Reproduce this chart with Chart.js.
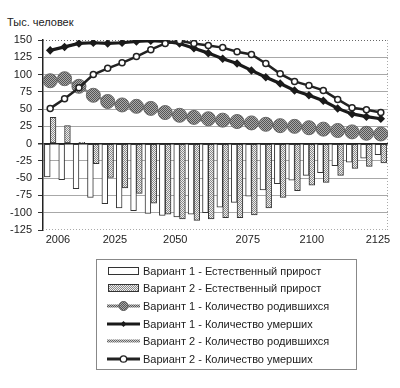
<!DOCTYPE html>
<html>
<head>
<meta charset="utf-8">
<script src="https://cdn.jsdelivr.net/npm/chart.js@4.4.1/dist/chart.umd.min.js"></script>
<style>
  body { margin: 0; background: #fff; }
  #wrap { position: relative; width: 400px; height: 388px; font-family: "Liberation Sans", Arial, sans-serif; color: #222; }
  #unit { position: absolute; left: 7px; top: 16px; font-size: 11px; }
  #plot { position: absolute; left: 0; top: 0; }
  #legend { position: absolute; left: 96px; top: 259px; width: 261px; height: 111px; border: 1px solid #888; box-sizing: border-box; padding-top: 2px; }
  .row { display: flex; align-items: center; height: 17.6px; font-size: 11px; white-space: nowrap; }
  .row canvas { margin-left: 10px; margin-right: 3px; }
</style>
</head>
<body>
<div id="wrap">
  <div id="unit">Тыс. человек</div>
  <canvas id="plot" width="400" height="250"></canvas>
  <div id="legend"></div>
</div>
<script>
"use strict";

// category index (24 periods) and the years shown on the axis
const categories = [0,1,2,3,4,5,6,7,8,9,10,11,12,13,14,15,16,17,18,19,20,21,22,23];
const tickLabels = ['2006', '2025', '2050', '2075', '2100', '2125'];
const tickPos    = [0.54, 4.5, 8.7, 13.75, 18.2, 22.8];

const v1Natural = [-48,-52,-65,-78,-87,-93,-97,-101,-104,-106,-102,-100,-92,-85,-76,-67,-58,-53,-46,-42,-32,-27,-21,-16];
const v2Natural = [38,26,2,-29,-49,-64,-72,-86,-102,-109,-111,-109,-107,-107,-103,-93,-78,-68,-60,-56,-46,-36,-33,-28];
const v1Births  = [91,94,83,70,61,56,54,51,45,41,38,36,34,32,30,28,26,25,23,21,19,17,15,14];
const v1Deaths  = [135,140,145,146,145,146,148,149,148,145,138,131,123,116,106,96,87,77,70,62,51,43,39,36];
const v2Births  = [89,91,83,71,60,53,54,50,43,40,34,33,32,30,29,27,25,23,22,20,18,16,15,14];
const v2Deaths  = [51,65,81,100,109,117,126,136,145,149,145,142,139,133,129,116,101,90,84,77,64,52,49,45];

const seriesNames = [
  'Вариант 1 - Естественный прирост',
  'Вариант 2 - Естественный прирост',
  'Вариант 1 - Количество родившихся',
  'Вариант 1 - Количество умерших',
  'Вариант 2 - Количество родившихся',
  'Вариант 2 - Количество умерших'
];

function dotPattern(ctx, fg, bg) {
  const t = document.createElement('canvas');
  t.width = 2; t.height = 2;
  const g = t.getContext('2d');
  g.fillStyle = bg; g.fillRect(0, 0, 2, 2);
  g.fillStyle = fg; g.fillRect(0, 0, 1, 1); g.fillRect(1, 1, 1, 1);
  return ctx.createPattern(t, 'repeat');
}

const pts = arr => arr.map((v, i) => ({ x: categories[i], y: v }));

const canvas = document.getElementById('plot');
const pctx = canvas.getContext('2d');
const hatch = dotPattern(pctx, '#8a8a8a', '#eeeeee');
const ball  = dotPattern(pctx, '#555555', '#aaaaaa');

const framePlugin = {
  id: 'frame',
  beforeDatasetsDraw(chart) {
    const { ctx, chartArea: { left, right, top, bottom } } = chart;
    ctx.save();
    ctx.setLineDash([1, 2]);
    ctx.lineWidth = 1;
    ctx.strokeStyle = '#666';
    ctx.beginPath(); ctx.moveTo(left, top + 0.5); ctx.lineTo(right, top + 0.5); ctx.stroke();
    ctx.strokeStyle = '#aaa';
    ctx.beginPath();
    ctx.moveTo(right - 0.5, top); ctx.lineTo(right - 0.5, bottom);
    ctx.moveTo(left, bottom - 0.5); ctx.lineTo(right, bottom - 0.5);
    ctx.stroke();
    ctx.restore();
  }
};

const font = { family: '"Liberation Sans", Arial, sans-serif', size: 11 };

new Chart(canvas, {
  type: 'bar',
  data: {
    datasets: [
      { type: 'bar', data: pts(v1Natural), backgroundColor: '#ffffff', borderColor: '#333', borderWidth: 1, borderSkipped: false, barThickness: 5.8, order: 10 },
      { type: 'bar', data: pts(v2Natural), backgroundColor: hatch, borderColor: '#333', borderWidth: 1, borderSkipped: false, barThickness: 5.8, order: 10 },
      { type: 'line', data: pts(v2Births), borderColor: '#999', borderWidth: 2, pointRadius: 0, order: 5 },
      { type: 'line', data: pts(v1Births), borderColor: '#888', borderWidth: 2, pointRadius: 7, pointBackgroundColor: ball, pointBorderColor: '#666', pointBorderWidth: 1, order: 4 },
      { type: 'line', data: pts(v1Deaths), borderColor: '#1a1a1a', borderWidth: 3.2, pointStyle: 'rectRot', pointRadius: 2, pointBackgroundColor: '#1a1a1a', pointBorderColor: '#1a1a1a', order: 2 },
      { type: 'line', data: pts(v2Deaths), borderColor: '#222', borderWidth: 2.5, pointRadius: 3, pointBackgroundColor: '#fff', pointBorderColor: '#222', pointBorderWidth: 1.5, order: 1 }
    ]
  },
  options: {
    responsive: false,
    animation: false,
    layout: { padding: { top: 40, right: 12, left: 0, bottom: 0 } },
    plugins: { legend: { display: false }, tooltip: { enabled: false } },
    scales: {
      x: {
        type: 'linear', min: -0.5, max: 23.5, offset: false, bounds: 'data',
        afterBuildTicks: a => { a.ticks = tickPos.map(v => ({ value: v })); },
        ticks: { callback: (v, i) => tickLabels[i], autoSkip: false, maxRotation: 0, padding: 3, color: '#222', font },
        grid: { display: false, drawTicks: false, offset: false },
        border: { display: false },
        afterFit: a => { a.height = 20; }
      },
      y: {
        min: -125, max: 150,
        ticks: { stepSize: 25, padding: 6, color: '#222', font },
        grid: {
          color: c => {
            const v = c.tick ? c.tick.value : null;
            if (v === 0) return '#222';
            if (v === 150 || v === -125) return 'rgba(0,0,0,0)';
            return '#a8a8a8';
          },
          lineWidth: c => (c.tick && c.tick.value === 0 ? 1.5 : 1),
          tickLength: 5, tickColor: '#333'
        },
        border: { display: true, color: '#222', width: 1.5 },
        afterFit: a => { a.width = 43; }
      }
    }
  },
  plugins: [framePlugin]
});

// legend with drawn swatches
function swatch(kind) {
  const c = document.createElement('canvas');
  c.width = 33; c.height = 12;
  const g = c.getContext('2d');
  const line = (col, w) => { g.strokeStyle = col; g.lineWidth = w; g.beginPath(); g.moveTo(0, 6); g.lineTo(33, 6); g.stroke(); };
  if (kind === 0 || kind === 1) {
    g.fillStyle = kind === 0 ? '#fff' : dotPattern(g, '#8a8a8a', '#eeeeee');
    g.fillRect(1, 2.5, 31, 7);
    g.strokeStyle = '#333'; g.lineWidth = 1; g.strokeRect(1.5, 2.5, 30, 7);
  } else if (kind === 2) {
    line(dotPattern(g, '#555', '#bbb'), 3);
    g.fillStyle = dotPattern(g, '#555555', '#aaaaaa');
    g.beginPath(); g.arc(16.5, 6, 4.5, 0, Math.PI * 2); g.fill();
    g.strokeStyle = '#555'; g.lineWidth = 1; g.stroke();
  } else if (kind === 3) {
    line('#1a1a1a', 3);
    g.fillStyle = '#1a1a1a';
    g.beginPath(); g.moveTo(16.5, 3); g.lineTo(19.5, 6); g.lineTo(16.5, 9); g.lineTo(13.5, 6); g.fill();
  } else if (kind === 4) {
    line(dotPattern(g, '#666', '#ccc'), 3);
  } else {
    line('#222', 3);
    g.fillStyle = '#fff';
    g.beginPath(); g.arc(16.5, 6, 3.2, 0, Math.PI * 2); g.fill();
    g.strokeStyle = '#222'; g.lineWidth = 1.3; g.stroke();
  }
  return c;
}

const legend = document.getElementById('legend');
seriesNames.forEach((name, i) => {
  const row = document.createElement('div');
  row.className = 'row';
  row.appendChild(swatch(i));
  const s = document.createElement('span');
  s.textContent = name;
  row.appendChild(s);
  legend.appendChild(row);
});
</script>
</body>
</html>
